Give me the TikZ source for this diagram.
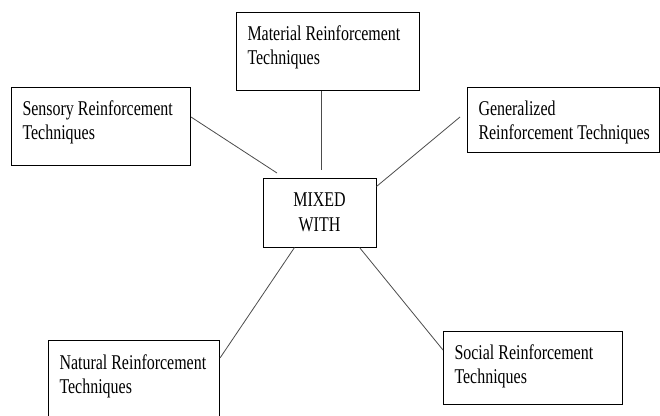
\documentclass[tikz,border=0pt]{standalone}
\usepackage{fontspec}
\setmainfont{Liberation Serif}[FakeStretch=0.76]
\usetikzlibrary{calc}

\begin{document}
\begin{tikzpicture}[x=1pt, y=-1pt,
    box/.style={draw, line width=1pt, anchor=north west, align=flush left, inner xsep=11pt, inner ysep=0pt, text height=28pt, font=\fontsize{21}{24}\selectfont},
    hub/.style={draw, line width=1pt, align=flush center, inner sep=0pt, minimum width=113pt, minimum height=69pt, font=\fontsize{21}{25}\selectfont},
    link/.style={draw=black!70, line width=0.8pt}]
      \clip (0,0) rectangle (660,415);
      \node[box, text width=161pt, text depth=50pt] (material) at (236,12) {Material Reinforcement\\Techniques};
      \node[box, text width=157pt, text depth=50pt] (sensory) at (11,87) {Sensory Reinforcement\\Techniques};
      \node[box, text width=170pt, text depth=37pt] (general) at (467,87) {Generalized\\\mbox{Reinforcement Techniques}};
      \node[hub] (mixed) at (319.5,212.5) {MIXED\\WITH};
      \node[box, text width=149pt, text height=29pt, text depth=49pt] (natural) at (48,340) {Natural Reinforcement\\Techniques};
      \node[box, text width=157pt, text depth=45pt] (social) at (443,331) {Social Reinforcement\\Techniques};
      % free ends near the hub
      \coordinate (m1) at (321,170);
      \coordinate (s1) at (277,173);
      \coordinate (g1) at (460,117);
      \draw[link] (material.south -| m1) -- (m1);
      \draw[link] ($(sensory.north east)+(0,30)$) -- (s1);
      \draw[link] (g1) -- ($(mixed.north east)+(0,9)$);
      \draw[link] ($(natural.north east)+(0,18)$) -- ($(mixed.south west)+(32,0)$);
      \draw[link] ($(mixed.south west)+(97,0)$) -- ($(social.north west)+(0,19)$);
    \end{tikzpicture}
\end{document}
